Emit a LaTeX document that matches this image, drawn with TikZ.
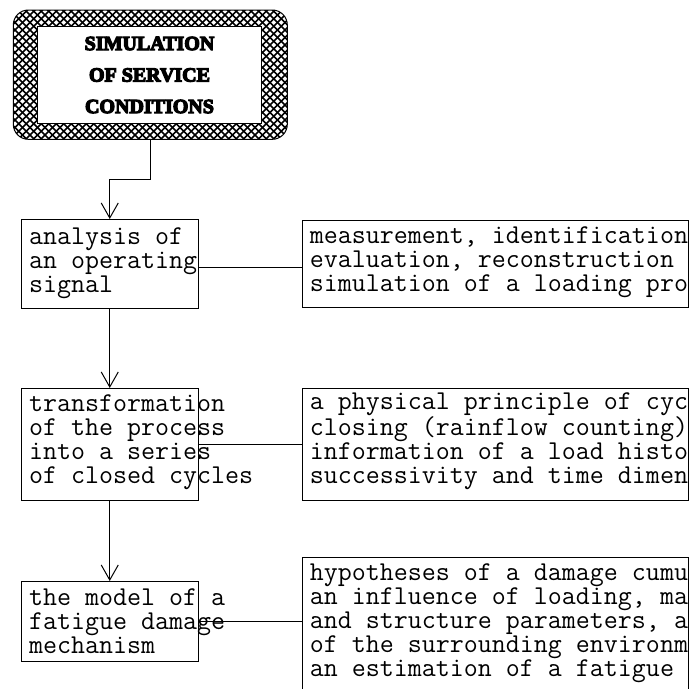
\documentclass[tikz,border=0pt]{standalone}
\usepackage{fontspec}
\newfontfamily\simfont{Liberation Serif}[BoldFeatures={FakeBold=6}]
\usetikzlibrary{arrows.meta}
\begin{document}
\begin{tikzpicture}[x=1pt,y=-1pt,line width=1pt,>={Straight Barb[length=15pt,width=17pt]},
  b/.style={draw,minimum width=177.5pt,inner sep=0pt,outer sep=0pt},
  r/.style={draw,minimum width=385.6pt,inner sep=0pt,outer sep=0pt},
  t/.style={anchor=base west,inner sep=0pt,align=left,font=\ttfamily\fontsize{27.2}{24}\selectfont}]
\useasboundingbox (0,0) rectangle (690,688);
\clip (0,0) rectangle (690,688);
% hatched frame
\begin{scope}
\clip[rounded corners=15pt] (13.3,10) rectangle (287.3,139.3);
\foreach \i in {0,7.5,...,450} {\draw[line width=1.6pt] (\i,0)--++(-150,150); \draw[line width=1.6pt] (\i-150,0)--++(150,150);}
\end{scope}
\node[draw,rounded corners=15pt,minimum width=274pt,minimum height=129.3pt,outer sep=0pt] (sim) at (150.3,74.65) {};
\node[draw,fill=white,minimum width=224.4pt,minimum height=97.3pt] (simin) at (149.5,74.65) {};
\node[font=\simfont\bfseries\fontsize{20}{31.5}\selectfont,align=center] (simtxt) at (149.5,75) {SIMULATION\\OF SERVICE\\CONDITIONS};
% left column (base = last line)
\node[b,minimum height=89pt] (anal) at (109.75,263.5) {};
\node[b,minimum height=112.7pt] (trans) at (109.75,444.35) {};
\node[b,minimum height=80pt] (model) at (109.75,621) {};
\node[t] (analtxt) at (28.6,292.3) {analysis of\\an operating\\signal};
\node[t] (transtxt) at (28.6,483.7) {transformation\\of the process\\into a series\\of closed cycles};
\node[t] (modeltxt) at (28.6,653) {the model of a\\fatigue damage\\mechanism};
% right column
\node[r,minimum height=87.7pt] (meas) at (495.5,263.85) {};
\node[r,minimum height=112pt] (cyc) at (495.5,444) {};
\node[r,minimum height=163pt] (hyp) at (495.5,638.5) {};
\begin{scope}
\clip (meas.north west) rectangle (meas.south east);
\node[t] (meastxt) at (309.3,291.3) {measurement, identification\\evaluation, reconstruction\\simulation of a loading pro};
\end{scope}
\begin{scope}
\clip (cyc.north west) rectangle (cyc.south east);
\node[t] (cyctxt) at (309.3,483.7) {a physical principle of cyc\\closing (rainflow counting)\\information of a load histo\\successivity and time dimen};
\end{scope}
\begin{scope}
\clip (hyp.north west) rectangle (hyp.south east);
\node[t] (hyptxt) at (309.3,676) {hypotheses of a damage cumu\\an influence of loading, ma\\and structure parameters, a\\of the surrounding environm\\an estimation of a fatigue};
\end{scope}
% connectors
\draw[->] (sim.south)--++(0,40)-|(anal.north);
\draw[->] (anal.south)--(trans.north);
\draw[->] (trans.south)--(model.north);
\draw ([yshift=-3.5pt]anal.east)--([yshift=-3.5pt]anal.east -| meas.west);
\draw (trans.east)--(trans.east -| cyc.west);
\draw (model.east)--(model.east -| hyp.west);
\end{tikzpicture}
\end{document}
